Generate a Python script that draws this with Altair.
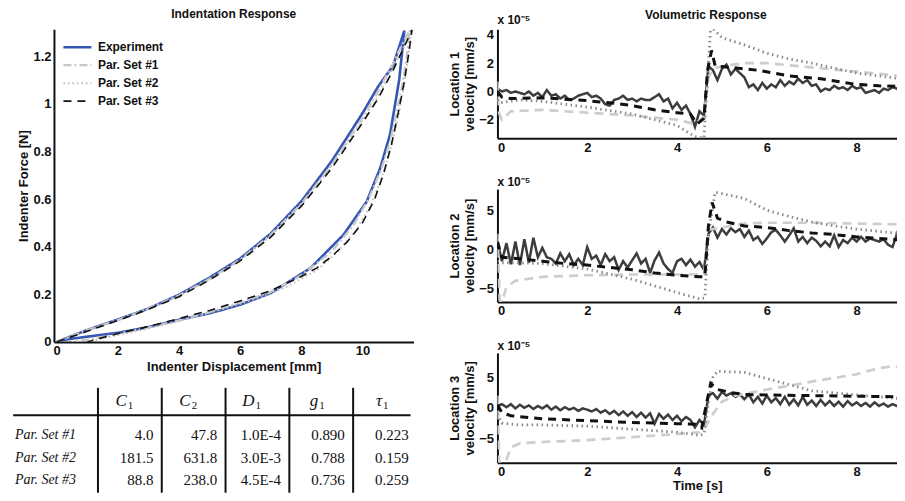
import altair as alt
import pandas as pd

SERIES = ["Experiment", "Par. Set #1", "Par. Set #2", "Par. Set #3"]

# ---------------- Indentation response (displacement mm, force N) ----------------
exp_disp = [0, 0.5, 1, 2, 3, 4, 5, 6, 7, 8, 9, 10, 10.5, 11, 11.37,
            11.2, 10.9, 10.58, 10.14, 9.38, 8.3, 7.0, 6.0, 5.0, 4.0, 3.0, 2.0, 1.0, 0.3, 0]
exp_force = [0, 0.025, 0.05, 0.094, 0.14, 0.198, 0.27, 0.35, 0.455, 0.59, 0.76, 0.96, 1.07, 1.16, 1.307,
             1.1, 0.87, 0.73, 0.59, 0.45, 0.31, 0.205, 0.156, 0.12, 0.093, 0.062, 0.038, 0.022, 0.01, 0]

p1_disp = [0, 1, 2, 3, 4, 5, 6, 7, 8, 9, 10, 10.5, 11, 11.3, 11.55,
           11.45, 11.3, 11.1, 10.9, 10.6, 10.2, 9.7, 9.0, 8.0, 7.0, 6.0, 5.0, 4.0, 3.0, 2.0, 1.0, 0.5]
p1_force = [0, 0.05, 0.092, 0.14, 0.195, 0.265, 0.345, 0.45, 0.58, 0.745, 0.94, 1.05, 1.17, 1.25, 1.31,
            1.2, 1.08, 0.95, 0.84, 0.72, 0.6, 0.49, 0.38, 0.28, 0.21, 0.165, 0.125, 0.09, 0.06, 0.033, 0.01, 0.0]

p2_disp = [0, 1, 2, 3, 4, 5, 6, 7, 8, 9, 10, 10.5, 11, 11.4, 11.6,
           11.5, 11.35, 11.15, 10.9, 10.6, 10.25, 9.8, 9.2, 8.5, 7.5, 6.5, 5.5, 4.5, 3.5, 2.5, 1.5, 1.0]
p2_force = [0, 0.048, 0.09, 0.138, 0.192, 0.262, 0.342, 0.445, 0.575, 0.74, 0.93, 1.03, 1.15, 1.25, 1.31,
            1.2, 1.07, 0.93, 0.8, 0.68, 0.57, 0.47, 0.38, 0.3, 0.23, 0.18, 0.14, 0.105, 0.072, 0.042, 0.015, 0.0]

p3_disp = [0, 1, 2, 3, 4, 5, 6, 7, 8, 9, 10, 10.5, 11, 11.4, 11.62,
           11.5, 11.35, 11.15, 10.95, 10.7, 10.4, 10.0, 9.5, 9.0, 8.5, 8.0, 7.0, 6.0, 5.0, 4.0, 3.0, 2.0, 1.5, 1.0]
p3_force = [0, 0.045, 0.09, 0.137, 0.19, 0.26, 0.34, 0.44, 0.57, 0.73, 0.92, 1.02, 1.14, 1.25, 1.31,
            1.2, 1.08, 0.95, 0.83, 0.71, 0.6, 0.5, 0.42, 0.36, 0.31, 0.275, 0.215, 0.172, 0.132, 0.098, 0.065, 0.035, 0.018, 0.0]

# ---------------- Volumetric response (time s, velocity x1e-5 mm/s) ----------------
T_EXP = [round(0.1 * k, 1) for k in range(91)]

loc1_exp = [0.2, 0.0, 0.1, -0.1, 0.0, -0.1, -0.2, 0.0, -0.3, -0.1,
            -0.4, 0.1, -0.3, -0.2, -0.5, -0.3, -0.6, -0.5, -0.3, -0.2,
            -0.1, -0.4, -0.3, -0.5, -0.9, -1.0, -0.6, -0.5, -0.3, -0.6,
            -0.5, -0.7, -0.5, -0.6, -0.6, -0.4, -0.2, -0.7, -0.5, -1.2,
            -0.8, -1.3, -1.0, -1.6, -2.5, -1.4, -1.7, 1.8, 1.5, 0.8,
            1.6, 1.9, 1.2, 1.6, 1.3, 1.0, 0.3, 0.5, 0.1, 0.6,
            0.2, 0.5, 0.3, 0.8, 0.4, 0.7, 0.5, 0.9, 0.6, 0.8,
            0.4, 0.5, 0.0, 0.2, 0.1, 0.4, 0.2, 0.3, 0.1, 0.4,
            0.2, 0.3, -0.1, 0.0, 0.1, -0.1, 0.2, 0.1, 0.3, 0.2, 0.5]
loc2_exp = [1.0, -1.5, 0.8, -1.9, 1.0, -2.0, 1.3, -1.7, 1.5, -1.0,
            0.2, -1.0, -1.2, -1.8, -0.5, -1.5, -0.6, -2.0, -1.2, -2.0,
            0.3, -1.2, -0.8, -2.0, -0.6, -1.5, -1.0, -2.6, -1.5, -2.3,
            -1.4, -0.5, -1.8, -1.2, -3.0, -1.4, -0.4, -1.8, -2.5, -3.0,
            -1.5, -1.2, -2.0, -1.3, -2.2, -1.6, -2.6, 2.0, 2.8, 1.5,
            2.6, 1.9, 2.7, 2.2, 2.6, 1.6, 2.4, 1.2, 1.6, 0.7,
            1.4, 2.2, 2.5, 1.8, 1.0, 1.8, 2.7, 1.0, 1.6, 0.8,
            1.5, 1.1, 0.4, 1.0, 0.4, 1.8, 0.3, 1.2, 0.8, 1.5,
            1.0, 1.6, 1.0, 1.4, 1.2, 1.0, 1.3, 0.6, 0.3, 2.0, -0.5]
loc3_exp = [0.3, 0.6, 0.1, 0.6, -0.1, 0.5, 0.0, 0.4, -0.2, 0.3,
            -0.1, 0.4, -0.3, 0.2, -0.4, 0.1, -0.3, 0.0, -0.5, -0.1,
            -0.3, -0.6, -0.2, -0.8, -0.4, -1.0, -0.5, -1.2, -0.6, -1.3,
            -0.7, -1.5, -0.8, -1.6, -0.9, -2.6, -1.0, -1.8, -1.1, -2.0,
            -1.3, -2.2, -1.5, -2.0, -3.2, -2.0, -2.8, 2.0, 2.4, 1.5,
            2.6, 2.0, 2.4, 1.8, 2.2, 1.4, 2.2, 0.9, 1.8, 0.7,
            2.0, 0.9, 1.6, 0.6, 1.8, 0.5, 1.4, 0.4, 1.8, 0.5,
            1.2, 0.3, 1.3, 0.4, 1.1, 0.3, 1.0, 0.2, 1.1, 0.4,
            0.9, 0.3, 0.8, 0.2, 0.9, 0.3, 0.7, 0.2, 0.6, 0.3, 0.2]

loc1_p1_t = [0, 0.03, 0.1, 0.3, 1, 2, 3, 4, 4.4, 4.6, 4.7, 4.8, 5.0, 5.5, 6, 7, 8, 9]
loc1_p1_v = [0.7, -1.5, -2.0, -1.4, -1.3, -1.5, -1.7, -2.0, -2.3, -1.8, 1.0, 1.6, 1.8, 2.0, 2.0, 1.7, 1.4, 1.1]
loc1_p2_t = [0, 0.05, 0.5, 1, 2, 3, 4, 4.4, 4.6, 4.68, 4.75, 5.0, 5.5, 6, 6.5, 7, 8, 9]
loc1_p2_v = [-0.6, -0.8, -0.6, -0.7, -1.1, -1.6, -2.4, -3.2, -3.3, 1.0, 4.6, 3.8, 3.3, 2.7, 2.3, 2.0, 1.3, 0.9]
loc1_p3_t = [0, 0.1, 0.3, 1, 2, 2.5, 3, 3.5, 4, 4.3, 4.45, 4.6, 4.68, 4.77, 4.85, 5.2, 5.8, 6.5, 7.2, 8, 8.5, 9]
loc1_p3_v = [0.0, -0.4, -0.5, -0.45, -0.65, -0.8, -1.0, -1.3, -1.5, -1.6, -2.3, -1.9, 1.5, 2.9, 1.8, 1.7, 1.5, 1.1, 0.9, 0.5, 0.4, 0.35]

loc2_p1_t = [0, 0.05, 0.1, 0.2, 0.4, 1, 2, 3, 4, 4.6, 4.7, 5.0, 5.5, 6, 7, 8, 9]
loc2_p1_v = [2.0, -6.5, -6.7, -4.8, -4.0, -3.5, -3.3, -3.2, -3.2, -3.2, 2.5, 2.8, 3.3, 3.4, 3.4, 3.3, 3.2]
loc2_p2_t = [0, 0.1, 0.3, 1, 2, 3, 4, 4.5, 4.62, 4.7, 4.85, 5.5, 6, 6.5, 7, 7.5, 8, 9]
loc2_p2_v = [-1.5, -1.7, -1.7, -1.8, -2.5, -3.8, -5.5, -6.3, -6.2, 2.0, 7.3, 6.5, 5.0, 4.2, 3.5, 3.0, 2.6, 2.0]
loc2_p3_t = [0, 0.1, 0.5, 1, 1.5, 2, 2.5, 3, 3.5, 4, 4.5, 4.62, 4.7, 4.78, 4.9, 5.1, 5.5, 6, 6.5, 7, 7.5, 8, 8.5, 9]
loc2_p3_v = [1.0, -1.0, -1.2, -1.5, -1.8, -2.0, -2.3, -2.6, -3.0, -3.3, -3.5, -3.5, 3.0, 6.0, 4.0, 3.5, 3.0, 2.8, 2.4, 2.1, 1.9, 1.6, 1.4, 1.2]

loc3_p1_t = [0, 0.04, 0.1, 0.2, 0.3, 0.5, 1, 2, 3, 4, 4.5, 4.6, 4.8, 5.0, 5.3, 6, 6.5, 7, 7.5, 8, 8.5, 8.8, 9]
loc3_p1_v = [2.0, -9.0, -9.0, -8.5, -6.5, -5.8, -5.6, -5.3, -4.8, -4.3, -4.0, -3.5, -1.0, 1.0, 2.0, 3.0, 3.6, 4.3, 4.9, 5.5, 6.5, 6.8, 6.7]
loc3_p2_t = [0, 0.1, 0.5, 1, 2, 3, 4, 4.5, 4.6, 4.7, 4.8, 4.9, 5.5, 6, 6.5, 7, 8, 9]
loc3_p2_v = [-1.0, -2.5, -2.8, -2.8, -3.0, -3.5, -4.0, -4.5, -4.3, 1.0, 5.0, 6.0, 5.8, 4.8, 3.8, 2.8, 2.1, 1.5]
loc3_p3_t = [0, 0.1, 0.3, 1, 2, 3, 4, 4.4, 4.55, 4.65, 4.75, 4.9, 5.2, 5.5, 6, 7, 8, 9]
loc3_p3_v = [0.5, -0.8, -1.3, -1.8, -2.1, -2.4, -2.6, -2.7, -3.3, 0.5, 4.0, 3.0, 2.5, 2.2, 2.1, 2.0, 1.9, 1.8]

# ---------------- Parameter table ----------------
TAB_HEAD = ["C", "C", "D", "g", "τ"]
TAB_SUB = ["1", "2", "1", "1", "1"]
ROW_LABELS = ["Par. Set #1", "Par. Set #2", "Par. Set #3"]
C1 = [4.0, 181.5, 88.8]
C2 = [47.8, 631.8, 238.0]
D1 = [1.0e-4, 3.0e-3, 4.5e-4]
G1 = [0.890, 0.788, 0.736]
TAU1 = [0.223, 0.159, 0.259]

# table layout in column / row units
COL_POS = [1, 2, 3, 4, 5]
SEP_POS = [0.5, 1.5, 2.5, 3.5, 4.5]
ROW_POS = [1.5, 2.5, 3.5]
HEAD_ROW = 0
TAB_LEFT = -0.83
TAB_X = [-0.19, 5.4]
TAB_Y = [-0.6, 4.05]
RULE_ROW = 0.62

FONT = "Liberation Sans"
SERIF = "Liberation Serif"

# ---------------- build frames ----------------
rows = []
for name, xs, fs in zip(SERIES, [exp_disp, p1_disp, p2_disp, p3_disp], [exp_force, p1_force, p2_force, p3_force]):
    for i, (x, f) in enumerate(zip(xs, fs)):
        rows.append({"series": name, "i": i, "x": x, "f": f})
ind_df = pd.DataFrame(rows)

vel = {
    1: [(T_EXP, loc1_exp), (loc1_p1_t, loc1_p1_v), (loc1_p2_t, loc1_p2_v), (loc1_p3_t, loc1_p3_v)],
    2: [(T_EXP, loc2_exp), (loc2_p1_t, loc2_p1_v), (loc2_p2_t, loc2_p2_v), (loc2_p3_t, loc2_p3_v)],
    3: [(T_EXP, loc3_exp), (loc3_p1_t, loc3_p1_v), (loc3_p2_t, loc3_p2_v), (loc3_p3_t, loc3_p3_v)],
}

left_colors = ["#3556b4", "#c8c8c8", "#bdbdbd", "#111111"]
left_dash = [[1, 0], [8, 3, 2, 3], [1.5, 3], [8, 6]]
left_width = [2.6, 1.6, 1.4, 3.0]

right_colors = ["#3d3d3d", "#cdcdcd", "#8a8a8a", "#111111"]
right_dash = [[1, 0], [9, 6], [1.5, 3.5], [8, 6]]
right_width = [2.5, 3.0, 1.2, 2.4]

indent = alt.Chart(ind_df).mark_line(clip=True).encode(
    x=alt.X("x:Q", scale=alt.Scale(domain=[-0.09, 11.67], nice=False, zero=False),
            axis=alt.Axis(values=[0, 2, 4, 6, 8, 10], title="Indenter Displacement [mm]", titlePadding=3,
                          labelPadding=3)),
    y=alt.Y("f:Q", scale=alt.Scale(domain=[0, 1.313], nice=False),
            axis=alt.Axis(values=[0, 0.2, 0.4, 0.6, 0.8, 1.0, 1.2], format="~g", title="Indenter Force [N]",
                          titlePadding=2, labelPadding=3)),
    color=alt.Color("series:N", scale=alt.Scale(domain=SERIES, range=left_colors),
                    legend=alt.Legend(title=None, orient="none", legendX=8, legendY=9, symbolType="stroke",
                                      symbolSize=784, labelFont=FONT, labelFontSize=12, labelFontWeight="bold",
                                      labelColor="#111", labelOffset=5, rowPadding=0, clipHeight=18, padding=0)),
    strokeDash=alt.StrokeDash("series:N", scale=alt.Scale(domain=SERIES, range=left_dash), legend=None),
    strokeWidth=alt.StrokeWidth("series:N", scale=alt.Scale(domain=SERIES, range=left_width), legend=None),
    order="i:Q",
).properties(width=360, height=313,
             title=alt.TitleParams("Indentation Response", anchor="middle", frame="group", offset=8))

# table
fmt_e = lambda v: "{:.1E}".format(v).replace("E-0", "E-")
cols = [["{:.1f}".format(v) for v in C1], ["{:.1f}".format(v) for v in C2], [fmt_e(v) for v in D1],
        ["{:.3f}".format(v) for v in G1], ["{:.3f}".format(v) for v in TAU1]]
cell_rows = []
for c, vals in zip(COL_POS, cols):
    for r, txt in zip(ROW_POS, vals):
        cell_rows.append({"c": c + 0.37, "r": r, "txt": txt})
cells_df = pd.DataFrame(cell_rows)
head_df = pd.DataFrame({"c": COL_POS, "r": [HEAD_ROW] * 5, "h": TAB_HEAD, "s": TAB_SUB})
lab_df = pd.DataFrame({"c": [TAB_LEFT + 0.03] * 3, "r": ROW_POS, "txt": ROW_LABELS})
vsep_df = pd.DataFrame({"c": SEP_POS, "r": [TAB_Y[0]] * 5, "r2": [TAB_Y[1]] * 5})
hsep_df = pd.DataFrame({"c": [TAB_LEFT], "c2": [TAB_X[1]], "r": [RULE_ROW]})

xs = alt.Scale(domain=TAB_X, nice=False, zero=False)
ys = alt.Scale(domain=TAB_Y, nice=False, zero=False, reverse=True)

t_vsep = alt.Chart(vsep_df).mark_rule(color="#111", strokeWidth=2).encode(
    x=alt.X("c:Q", scale=xs, axis=None), y=alt.Y("r:Q", scale=ys, axis=None), y2="r2:Q")
t_hsep = alt.Chart(hsep_df).mark_rule(color="#111", strokeWidth=2).encode(
    x=alt.X("c:Q", scale=xs, axis=None), x2="c2:Q", y=alt.Y("r:Q", scale=ys, axis=None))
t_head = alt.Chart(head_df).mark_text(font=SERIF, fontSize=17, fontStyle="italic", align="right", dx=-3, color="#111").encode(
    x=alt.X("c:Q", scale=xs, axis=None), y=alt.Y("r:Q", scale=ys, axis=None), text="h:N")
t_sub = alt.Chart(head_df).mark_text(font=SERIF, fontSize=11, align="left", dx=-2, dy=5, color="#111").encode(
    x=alt.X("c:Q", scale=xs, axis=None), y=alt.Y("r:Q", scale=ys, axis=None), text="s:N")
t_lab = alt.Chart(lab_df).mark_text(font=SERIF, fontSize=14, fontStyle="italic", align="left", color="#111").encode(
    x=alt.X("c:Q", scale=xs, axis=None), y=alt.Y("r:Q", scale=ys, axis=None), text="txt:N")
t_cells = alt.Chart(cells_df).mark_text(font=SERIF, fontSize=15, align="right", color="#111").encode(
    x=alt.X("c:Q", scale=xs, axis=None), y=alt.Y("r:Q", scale=ys, axis=None), text="txt:N")
table = alt.layer(t_vsep, t_hsep, t_head, t_sub, t_lab, t_cells).properties(width=357, height=105)

left = alt.vconcat(indent, table, spacing=13).resolve_scale(
    color="independent", strokeDash="independent", strokeWidth="independent")


def vel_panel(k, domain, ticks, height, title_offset, xtitle=None):
    recs = []
    for name, (ts, vs) in zip(SERIES, vel[k]):
        for i, (t, v) in enumerate(zip(ts, vs)):
            recs.append({"series": name, "i": i, "t": t, "v": v})
    d = pd.DataFrame(recs)
    xaxis = dict(values=[0, 2, 4, 6, 8], labelPadding=3)
    if xtitle:
        xaxis["title"] = xtitle
        xaxis["titlePadding"] = 1
    else:
        xaxis["title"] = None
    return alt.Chart(d).mark_line(clip=True).encode(
        x=alt.X("t:Q", scale=alt.Scale(domain=[0, 8.9], nice=False), axis=alt.Axis(**xaxis)),
        y=alt.Y("v:Q", scale=alt.Scale(domain=domain, nice=False, zero=False),
                axis=alt.Axis(values=ticks, title=["Location %d" % k, "velocity [mm/s]"], titlePadding=2)),
        color=alt.Color("series:N", scale=alt.Scale(domain=SERIES, range=right_colors), legend=None),
        strokeDash=alt.StrokeDash("series:N", scale=alt.Scale(domain=SERIES, range=right_dash), legend=None),
        strokeWidth=alt.StrokeWidth("series:N", scale=alt.Scale(domain=SERIES, range=right_width), legend=None),
        order="i:Q",
    ).properties(width=400, height=height,
                 title=alt.TitleParams("x 10⁻⁵", anchor="start", frame="group", offset=title_offset))


v1 = vel_panel(1, [-3.3, 4.4], [-2, 0, 2, 4], 109, 2)
v2 = vel_panel(2, [-6.7, 7.7], [-5, 0, 5], 113, 0)
v3 = vel_panel(3, [-9.0, 9.0], [-5, 0, 5], 110, 0, "Time [s]")

right = alt.vconcat(v1, v2, v3, spacing=22,
                    title=alt.TitleParams("Volumetric Response", anchor="middle", dx=33, offset=-8)).resolve_scale(
    color="independent", strokeDash="independent", strokeWidth="independent")

chart = alt.concat(left, right, columns=2, align="none", spacing=35).resolve_scale(
    color="independent", strokeDash="independent", strokeWidth="independent"
).properties(padding={"left": 4, "top": 0, "right": 0, "bottom": 0}).configure(
    font=FONT
).configure_view(stroke=None).configure_axis(
    domainColor="#111", domainWidth=2, ticks=False, grid=False, labelPadding=4,
    labelFont=FONT, labelFontSize=13, labelFontWeight="bold", labelColor="#111",
    titleFont=FONT, titleFontSize=13, titleFontWeight="bold", titleColor="#111"
).configure_title(font=FONT, fontSize=12, fontWeight="bold", color="#111")

chart.save("out.html", embed_options={"renderer": "svg", "actions": False})
